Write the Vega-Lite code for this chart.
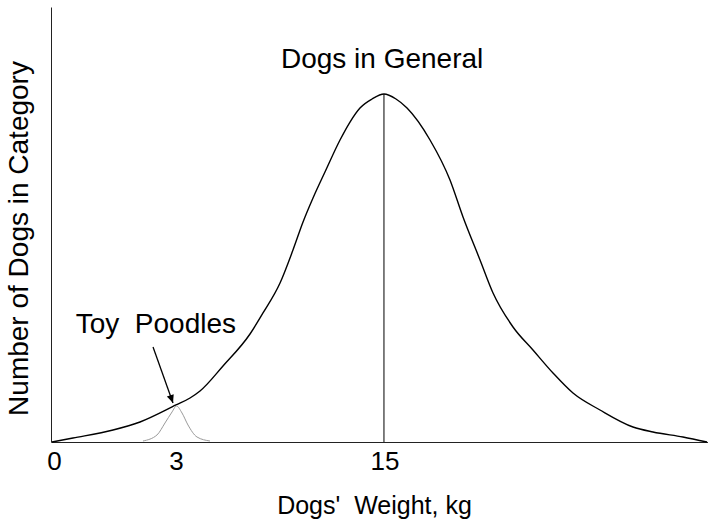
{
  "$schema": "https://vega.github.io/schema/vega-lite/v6.json",
  "autosize": "none",
  "width": 657,
  "height": 435,
  "padding": {"left": 51, "top": 7, "right": 0, "bottom": 78},
  "background": "white",
  "config": {
    "view": {"stroke": null},
    "font": "Liberation Sans",
    "text": {"font": "Liberation Sans"}
  },
  "datasets": {
    "general": [
      {"pos": 0.15, "count": 0},
      {"pos": 3.35, "count": 0.92},
      {"pos": 9.44, "count": 2.76},
      {"pos": 13.55, "count": 4.6},
      {"pos": 19.03, "count": 8.51},
      {"pos": 21.16, "count": 10.11},
      {"pos": 22.68, "count": 11.72},
      {"pos": 26.18, "count": 17.47},
      {"pos": 30.29, "count": 24.83},
      {"pos": 32.27, "count": 29.66},
      {"pos": 34.86, "count": 36.55},
      {"pos": 36.83, "count": 44.14},
      {"pos": 38.36, "count": 50.57},
      {"pos": 39.88, "count": 56.09},
      {"pos": 41.7, "count": 62.07},
      {"pos": 43.99, "count": 69.43},
      {"pos": 45.51, "count": 73.56},
      {"pos": 47.03, "count": 76.78},
      {"pos": 48.86, "count": 78.85},
      {"pos": 50.68, "count": 80.0},
      {"pos": 52.51, "count": 78.85},
      {"pos": 54.19, "count": 76.78},
      {"pos": 57.69, "count": 69.43},
      {"pos": 60.73, "count": 60.23},
      {"pos": 62.71, "count": 51.72},
      {"pos": 65.3, "count": 41.84},
      {"pos": 67.28, "count": 34.25},
      {"pos": 70.32, "count": 26.44},
      {"pos": 73.36, "count": 21.15},
      {"pos": 76.41, "count": 15.86},
      {"pos": 79.45, "count": 11.26},
      {"pos": 83.56, "count": 7.36},
      {"pos": 88.58, "count": 3.45},
      {"pos": 91.63, "count": 2.3},
      {"pos": 96.19, "count": 1.15},
      {"pos": 99.85, "count": 0}
    ],
    "poodles": [
      {"pos": 14.0, "count": 0.23},
      {"pos": 16.13, "count": 1.61},
      {"pos": 17.35, "count": 4.37},
      {"pos": 18.42, "count": 6.9},
      {"pos": 19.1, "count": 8.28},
      {"pos": 19.94, "count": 6.67},
      {"pos": 20.85, "count": 3.91},
      {"pos": 22.22, "count": 1.15},
      {"pos": 24.2, "count": 0.23}
    ],
    "peak": [{"pos": 50.68, "count": 80.0, "base": 0}],
    "arrow": [{"pos": 15.53, "count": 21.84, "pos2": 18.57, "count2": 8.97}],
    "labels": [
      {"pos": 50.4, "count": 85.9, "label": "Dogs in General"},
      {"pos": 15.96, "count": 24.99, "label": "Toy\u00a0 Poodles"}
    ]
  },
  "layer": [
    {
      "data": {"name": "general"},
      "mark": {"type": "line", "color": "black", "strokeWidth": 1.4, "interpolate": "monotone"},
      "encoding": {
        "x": {
          "field": "pos",
          "type": "quantitative",
          "scale": {"domain": [0, 100], "nice": false, "zero": false},
          "axis": {
            "values": [0.46, 19.03, 50.76],
            "labelExpr": "datum.value < 5 ? '0' : datum.value < 30 ? '3' : '15'",
            "grid": false,
            "ticks": false,
            "domainColor": "#222",
            "domainWidth": 1,
            "labelFontSize": 26,
            "labelColor": "black",
            "labelPadding": 6,
            "labelFlush": false,
            "title": "Dogs'\u00a0 Weight, kg",
            "titleFontSize": 25,
            "titleFontWeight": "normal",
            "titleColor": "black",
            "titleX": 323,
            "titleY": 71,
            "titleBaseline": "alphabetic",
            "titleAnchor": "middle",
            "titleAlign": "center"
          }
        },
        "y": {
          "field": "count",
          "type": "quantitative",
          "scale": {"domain": [0, 100], "nice": false},
          "axis": {
            "grid": false,
            "ticks": false,
            "labels": false,
            "domainColor": "#222",
            "domainWidth": 1,
            "title": "Number of Dogs in Category",
            "titleFontSize": 28,
            "titleFontWeight": "normal",
            "titleColor": "black",
            "titleAngle": -90,
            "titleX": -24,
            "titleY": 231,
            "titleBaseline": "alphabetic",
            "titleAlign": "center"
          }
        }
      }
    },
    {
      "data": {"name": "poodles"},
      "mark": {"type": "line", "color": "#9a9a9a", "strokeWidth": 1, "interpolate": "monotone"},
      "encoding": {
        "x": {"field": "pos", "type": "quantitative"},
        "y": {"field": "count", "type": "quantitative"}
      }
    },
    {
      "data": {"name": "peak"},
      "mark": {"type": "rule", "color": "black", "strokeWidth": 1},
      "encoding": {
        "x": {"field": "pos", "type": "quantitative"},
        "y": {"field": "count", "type": "quantitative"},
        "y2": {"field": "base"}
      }
    },
    {
      "data": {"name": "arrow"},
      "mark": {"type": "rule", "color": "black", "strokeWidth": 1.3},
      "encoding": {
        "x": {"field": "pos", "type": "quantitative"},
        "y": {"field": "count", "type": "quantitative"},
        "x2": {"field": "pos2"},
        "y2": {"field": "count2"}
      }
    },
    {
      "data": {"name": "arrow"},
      "mark": {
        "type": "point",
        "shape": "M0,0L-0.45,-1L0.45,-1Z",
        "filled": true,
        "color": "black",
        "opacity": 1,
        "size": 260,
        "angle": -19.7
      },
      "encoding": {
        "x": {"field": "pos2", "type": "quantitative"},
        "y": {"field": "count2", "type": "quantitative"}
      }
    },
    {
      "data": {"name": "labels"},
      "mark": {"type": "text", "fontSize": 28, "color": "black", "align": "center", "baseline": "alphabetic"},
      "encoding": {
        "x": {"field": "pos", "type": "quantitative"},
        "y": {"field": "count", "type": "quantitative"},
        "text": {"field": "label"}
      }
    }
  ]
}
